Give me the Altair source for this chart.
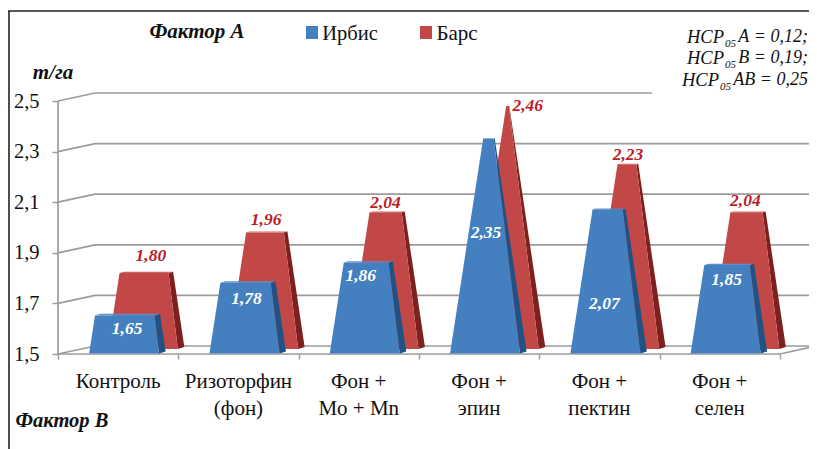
import altair as alt
import pandas as pd

categories = ["Контроль", "Ризоторфин\n(фон)", "Фон +\nMo + Mn", "Фон +\nэпин", "Фон +\nпектин", "Фон +\nселен"]
irbis = [1.65, 1.78, 1.86, 2.35, 2.07, 1.85]
bars = [1.80, 1.96, 2.04, 2.46, 2.23, 2.04]
ticks = [1.5, 1.7, 1.9, 2.1, 2.3, 2.5]

PW, PH = 801, 441
STEP = 120.3
UNIT = 253.0
X0, Y0 = 58 - 8, 354 - 8  # page → plot position of category 0 / value 1.5
xdom = [-X0 / STEP, (PW - X0) / STEP]
ydom = [1.5 - (PH - Y0) / UNIT, 1.5 + Y0 / UNIT]
xs = alt.Scale(domain=xdom, range=[0, PW], nice=False, zero=False)
ys = alt.Scale(domain=[ydom[0], ydom[1]], range=[PH, 0], nice=False, zero=False)

FONT = "Liberation Serif"
BLUE, BLUE_D, BLUE_T = "#4480bf", "#215283", "#5a90c8"
RED, RED_D, RED_T = "#c14846", "#7e211e", "#cc6461"
GRID = "#9c9c9c"

HW = 35 / STEP
LEAN = 4 / STEP
DX = 6.5 / STEP
DY = 2 / UNIT
BX, BB = 6 / STEP, 0.002
RX, RB = 24.7 / STEP, 0.02

XAX = alt.Axis(values=list(range(7)), labels=False, domain=False, grid=False, title=None,
               tickSize=5, tickColor=GRID, tickWidth=1.5, offset=Y0 - PH)
YAX = alt.Axis(values=ticks, domain=False, grid=False, title=None, tickSize=6, tickColor=GRID,
               tickWidth=1.5, offset=-X0, labelFont=FONT, labelFontSize=20.5, labelColor="#111",
               labelPadding=13, labelExpr="replace(format(datum.value,'.1f'),'.',',')")


def X(f):
    return alt.X(f, scale=xs, axis=XAX, title=None)


def Y(f):
    return alt.Y(f, scale=ys, axis=YAX, title=None)


def shape(v, cx, base):
    f = v - 1.5
    k = 1 - f
    top = base + f
    xl, xr = cx - HW, cx + HW
    c = cx + LEAN * f
    tl, tr = c - HW * k, c + HW * k
    front = [dict(y=base, a=xl, b=xr), dict(y=top, a=tl, b=tr)]
    ty = top + DY * k
    dxk = DX * k
    cap = [dict(y=top, a=tl, b=tr), dict(y=ty, a=tl + dxk, b=tr + dxk)]

    def left(y):
        return xr + (tr - xr) * (y - base) / (top - base)

    def right(y):
        return xr + DX + (tr + dxk - xr - DX) * (y - base - DY) / (ty - base - DY)

    side = [
        dict(y=base, a=xr, b=xr),
        dict(y=base + DY, a=left(base + DY), b=xr + DX),
        dict(y=top, a=tr, b=right(top)),
        dict(y=ty, a=tr + dxk, b=tr + dxk),
    ]
    return front, side, cap


def area(rows, color):
    return alt.Chart(pd.DataFrame(rows)).mark_area(orient="horizontal", color=color).encode(
        y=Y("y:Q"), x=X("a:Q"), x2=alt.X2("b"),
    )


BACK_X, BACK_Y = 37 / STEP, 8 / UNIT
END_X = (817 - 58) / STEP
TOP_END = (652 - 58) / STEP
lines = []
for t in ticks:
    end = TOP_END if t == 2.5 else END_X
    for n, (px, py) in enumerate([(0, t), (BACK_X, t + BACK_Y), (end, t + BACK_Y)]):
        lines.append(dict(g=f"g{t}", x=px, y=py, o=n))
for n, (px, py) in enumerate([(0, 1.5), (6, 1.5), (END_X, 1.5 + BACK_Y)]):
    lines.append(dict(g="floor", x=px, y=py, o=n))
for n, (px, py) in enumerate([(0, 1.5), (0, 2.5)]):
    lines.append(dict(g="wall", x=px, y=py, o=n))

axes = alt.Chart(pd.DataFrame(lines)).mark_line(color=GRID, strokeWidth=1.7).encode(
    x=X("x:Q"), y=Y("y:Q"), detail="g:N", order="o:Q",
)

layers = [axes]
for i, vr in enumerate(bars):
    f, s, t = shape(vr, i + 0.5 + RX, 1.5 + RB)
    layers += [area(s, RED_D), area(f, RED), area(t, RED_T)]
for i, vb in enumerate(irbis):
    f, s, t = shape(vb, i + 0.5 + BX, 1.5 + BB)
    layers += [area(s, BLUE_D), area(f, BLUE), area(t, BLUE_T)]

blue_dx = [3, 2, -4, 1, -1, 1]
blue_dy = [13, 16, 13, 94, 94, 15]
red_dx = [8, 3, 2, 24, 4, 1]
red_dy = [-17, -13, -9, 0, -9, -11]
lab = []
for i in range(6):
    lab.append(dict(x=i + .5 + BX + blue_dx[i] / STEP, y=irbis[i] - blue_dy[i] / UNIT,
                    t=f"{irbis[i]:.2f}".replace(".", ","), s="b"))
    lab.append(dict(x=i + .5 + RX + red_dx[i] / STEP, y=bars[i] + .02 - red_dy[i] / UNIT,
                    t=f"{bars[i]:.2f}".replace(".", ","), s="r"))
lab = pd.DataFrame(lab)
for s, col in [("b", "#ffffff"), ("r", "#bb1c28")]:
    layers.append(
        alt.Chart(lab[lab.s == s]).mark_text(font=FONT, fontSize=17.5, fontStyle="italic", fontWeight="bold",
                                             color=col, baseline="middle").encode(
            x=X("x:Q"), y=Y("y:Q"), text="t:N")
    )

catdf = pd.DataFrame(dict(x=[i + .5 for i in range(6)], t=categories))
layers.append(
    alt.Chart(catdf).mark_text(font=FONT, fontSize=21, lineBreak="\n", lineHeight=26.5, baseline="top", color="#111").encode(
        x=X("x:Q"), y=alt.value(371 - 8), text="t:N")
)


def note(text, px, py, size=18, style="normal", weight="normal", align="center", color="#111"):
    return alt.Chart(pd.DataFrame({"a": [0]})).mark_text(
        text=text, font=FONT, fontSize=size, fontStyle=style, fontWeight=weight, align=align,
        baseline="middle", color=color,
    ).encode(x=alt.value(px - 8), y=alt.value(py - 8))


layers += [
    note("Фактор А", 197, 32, 21, "italic", "bold"),
    note("Фактор В", 62, 421, 20.5, "italic", "bold"),
    note("т/га", 53, 73, 21, "italic", "bold"),
    note("Ирбис", 350, 34, 20.5),
    note("Барс", 457, 34, 21),
]
for px, col in [(306, BLUE), (420, RED)]:
    layers.append(
        alt.Chart(pd.DataFrame({"a": [0]})).mark_rect(color=col).encode(
            x=alt.value(px - 8), x2=alt.value(px + 12 - 8), y=alt.value(26 - 8), y2=alt.value(39 - 8))
    )

for tail, sub_x, hcp_x, py in [("А = 0,12;", 736, 724, 37), ("В = 0,19;", 736, 724, 58), ("АВ = 0,25", 731, 719, 80)]:
    layers.append(note(tail, 808, py, 18, "italic", align="right"))
    layers.append(note("05", sub_x, py + 7, 11, "italic", align="right"))
    layers.append(note("НСР", hcp_x, py, 18.5, "italic", align="right"))

layers.append(alt.Chart(pd.DataFrame({"a": [0]})).mark_rule(color="#222", strokeWidth=1.6).encode(
    x=alt.value(1), y=alt.value(3), y2=alt.value(PH)))
layers.append(alt.Chart(pd.DataFrame({"a": [0]})).mark_rule(color="#222", strokeWidth=1.6).encode(
    x=alt.value(0), x2=alt.value(PW), y=alt.value(3)))

chart = alt.layer(*layers).resolve_scale(x="shared", y="shared").properties(
    width=PW, height=PH, padding=0, autosize=alt.AutoSizeParams(type="none"),
    background="white",
).configure_view(stroke=None)

chart.save("out.html", embed_options={"renderer": "svg", "actions": False})
